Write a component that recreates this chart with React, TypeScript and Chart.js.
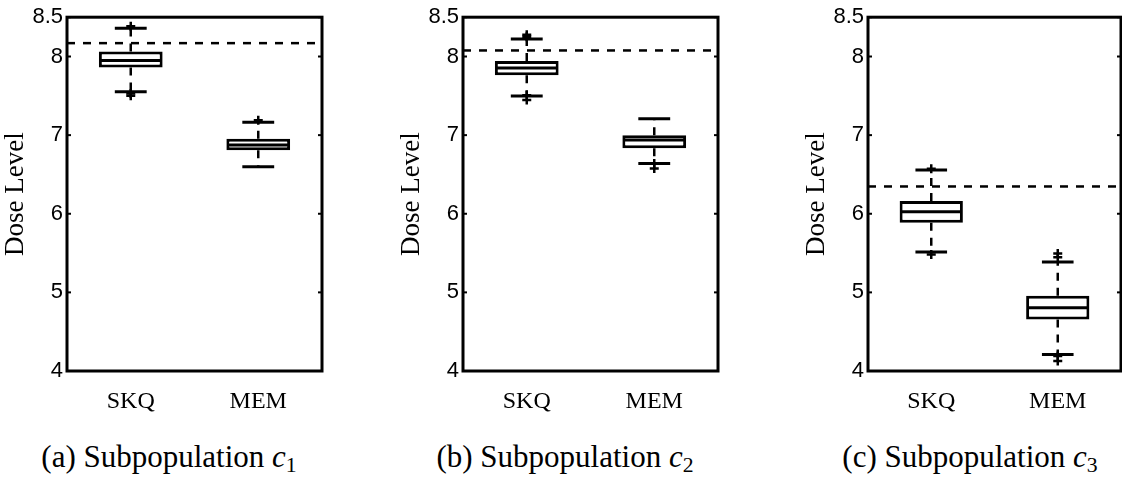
import React, { useEffect, useRef } from "react";
import { Chart, registerables } from "chart.js";

Chart.register(...registerables);

// ---------- data ----------
const categories = ["SKQ", "MEM"];
const yTickValues = [4, 5, 6, 7, 8, 8.5];
const axisTitle = "Dose Level";
const captionLetters = ["a", "b", "c"];
const captionSubs = ["1", "2", "3"];
const thresholds = [8.17, 8.077, 6.347];

// subpopulation c1  (per category: SKQ, MEM)
const c1Low = [7.553, 6.598];
const c1Q1 = [7.86, 6.807];
const c1Med = [7.95, 6.875];
const c1Q3 = [8.064, 6.954];
const c1High = [8.36, 7.164];
const c1Out = [[8.385, 7.53, 7.5], [7.19]];

// subpopulation c2
const c2Low = [7.498, 6.64];
const c2Q1 = [7.762, 6.832];
const c2Med = [7.855, 6.938];
const c2Q3 = [7.943, 7.0];
const c2High = [8.223, 7.209];
const c2Out = [[8.278, 8.25, 7.507, 7.448], [6.64, 6.577]];

// subpopulation c3
const c3Low = [5.512, 4.21];
const c3Q1 = [5.886, 4.654];
const c3Med = [6.024, 4.805];
const c3Q3 = [6.162, 4.956];
const c3High = [6.556, 5.387];
const c3Out = [[6.573, 5.483], [5.496, 5.446, 4.19, 4.126]];

const panelData = [
  { low: c1Low, q1: c1Q1, med: c1Med, q3: c1Q3, high: c1High, out: c1Out, thr: thresholds[0] },
  { low: c2Low, q1: c2Q1, med: c2Med, q3: c2Q3, high: c2High, out: c2Out, thr: thresholds[1] },
  { low: c3Low, q1: c3Q1, med: c3Med, q3: c3Q3, high: c3High, out: c3Out, thr: thresholds[2] },
];

// ---------- layout ----------
const panelLayout = [
  { left: 0, plotWidth: 255 },
  { left: 396, plotWidth: 255 },
  { left: 801, plotWidth: 253 },
];
const AXIS_W = 67;
const CANVAS_H = 420;
const X_AXIS_H = 49;

const line = (ctx: CanvasRenderingContext2D, x1: number, y1: number, x2: number, y2: number) => {
  ctx.beginPath();
  ctx.moveTo(x1, y1);
  ctx.lineTo(x2, y2);
  ctx.stroke();
};

const boxPlugin = {
  id: "boxExtras",
  afterDatasetsDraw(chart: any, _args: any, opts: any) {
    const { ctx, chartArea: a, scales } = chart;
    const x = scales.x;
    const y = scales.y;
    const d = opts.panel;
    const meta = chart.getDatasetMeta(0);
    ctx.save();
    ctx.strokeStyle = "#000";
    ctx.lineCap = "butt";
    categories.forEach((_c, i) => {
      const cx = x.getPixelForValue(i);
      const bar = meta.data[i];
      const half = bar.width / 2;
      // median
      ctx.setLineDash([]);
      ctx.lineWidth = 3;
      line(ctx, cx - half + 1.5, y.getPixelForValue(d.med[i]), cx + half - 1.5, y.getPixelForValue(d.med[i]));
      // whiskers (dashed)
      ctx.lineWidth = 2.5;
      ctx.setLineDash([8, 7]);
      line(ctx, cx, y.getPixelForValue(d.q3[i]), cx, y.getPixelForValue(d.high[i]));
      line(ctx, cx, y.getPixelForValue(d.q1[i]), cx, y.getPixelForValue(d.low[i]));
      // caps
      ctx.setLineDash([]);
      ctx.lineWidth = 3;
      line(ctx, cx - half / 2, y.getPixelForValue(d.high[i]), cx + half / 2, y.getPixelForValue(d.high[i]));
      line(ctx, cx - half / 2, y.getPixelForValue(d.low[i]), cx + half / 2, y.getPixelForValue(d.low[i]));
    });
    // threshold dashed line
    ctx.lineWidth = 2.5;
    ctx.setLineDash([8, 8]);
    const ty = y.getPixelForValue(d.thr);
    line(ctx, a.left, ty, a.right, ty);
    // frame
    ctx.setLineDash([]);
    ctx.lineWidth = 3;
    ctx.strokeRect(a.left, a.top, a.right - a.left, a.bottom - a.top);
    // inward ticks
    ctx.lineWidth = 2;
    y.ticks.forEach((t: any) => {
      const py = y.getPixelForValue(t.value);
      line(ctx, a.left, py, a.left + 4, py);
      line(ctx, a.right - 4, py, a.right, py);
    });
    ctx.restore();
  },
};

function Panel({ idx }: { idx: number }) {
  const ref = useRef<HTMLCanvasElement>(null);
  const d = panelData[idx];
  const lay = panelLayout[idx];
  const width = AXIS_W + lay.plotWidth + 2;
  useEffect(() => {
    if (!ref.current) return;
    const outPoints: any[] = [];
    d.out.forEach((vals: number[], i: number) => vals.forEach((v) => outPoints.push({ x: categories[i], y: v })));
    const chart = new Chart(ref.current, {
      type: "bar",
      data: {
        labels: categories,
        datasets: [
          {
            type: "bar",
            data: categories.map((_c, i) => [d.q1[i], d.q3[i]]),
            backgroundColor: "#fff",
            borderColor: "#000",
            borderWidth: 3,
            borderSkipped: false,
            barPercentage: 0.5,
            categoryPercentage: 1,
            order: 2,
          } as any,
          {
            type: "scatter",
            data: outPoints,
            pointStyle: "cross",
            pointRadius: 4.5,
            borderColor: "#000",
            backgroundColor: "#000",
            borderWidth: 2.5,
            order: 1,
          } as any,
        ],
      },
      options: {
        animation: false,
        responsive: false,
        devicePixelRatio: 1,
        layout: { autoPadding: false, padding: { top: 13, right: 2, left: 0, bottom: 0 } },
        plugins: {
          legend: { display: false },
          tooltip: { enabled: false },
          boxExtras: { panel: d },
        } as any,
        scales: {
          x: {
            type: "category",
            offset: true,
            grid: { display: false, drawTicks: false },
            border: { display: false },
            ticks: {
              font: { family: '"Liberation Serif", serif', size: 24 },
              color: "#000",
              padding: 16,
              maxRotation: 0,
            },
            afterFit: (s: any) => {
              s.height = X_AXIS_H;
            },
          },
          y: {
            type: "linear",
            min: 4,
            max: 8.5,
            afterBuildTicks: (s: any) => {
              s.ticks = yTickValues.map((v) => ({ value: v }));
            },
            grid: { display: false, drawTicks: false },
            border: { display: false },
            ticks: {
              font: { family: '"Liberation Sans", Arial, sans-serif', size: 22 },
              color: "#000",
              padding: 4,
              callback: (v: any) => String(v),
            },
            title: {
              display: true,
              text: axisTitle,
              font: { family: '"Liberation Serif", serif', size: 27 },
              color: "#000",
              padding: 0,
            },
            afterFit: (s: any) => {
              s.width = AXIS_W;
            },
          },
        } as any,
      },
      plugins: [boxPlugin],
    });
    return () => chart.destroy();
  }, []);
  return (
    <>
      <canvas
        ref={ref}
        width={width}
        height={CANVAS_H}
        style={{ position: "absolute", left: lay.left, top: 0, width, height: CANVAS_H }}
      />
      <div
        style={{
          position: "absolute",
          left: lay.left + 169 - 200,
          top: 439,
          width: 400,
          textAlign: "center",
          fontFamily: '"Liberation Serif", serif',
          fontSize: 31,
          lineHeight: "36px",
          color: "#000",
          whiteSpace: "nowrap",
        }}
      >
        ({captionLetters[idx]}) Subpopulation <span style={{ fontStyle: "italic" }}>c</span>
        <sub style={{ fontSize: "0.7em", lineHeight: 0, verticalAlign: "-0.25em" }}>{captionSubs[idx]}</sub>
      </div>
    </>
  );
}

export default function App() {
  return (
    <div
      style={{
        position: "absolute",
        left: 0,
        top: 0,
        width: 1122,
        height: 479,
        overflow: "hidden",
        background: "#fff",
      }}
    >
      {panelData.map((_p, i) => (
        <Panel key={i} idx={i} />
      ))}
    </div>
  );
}
